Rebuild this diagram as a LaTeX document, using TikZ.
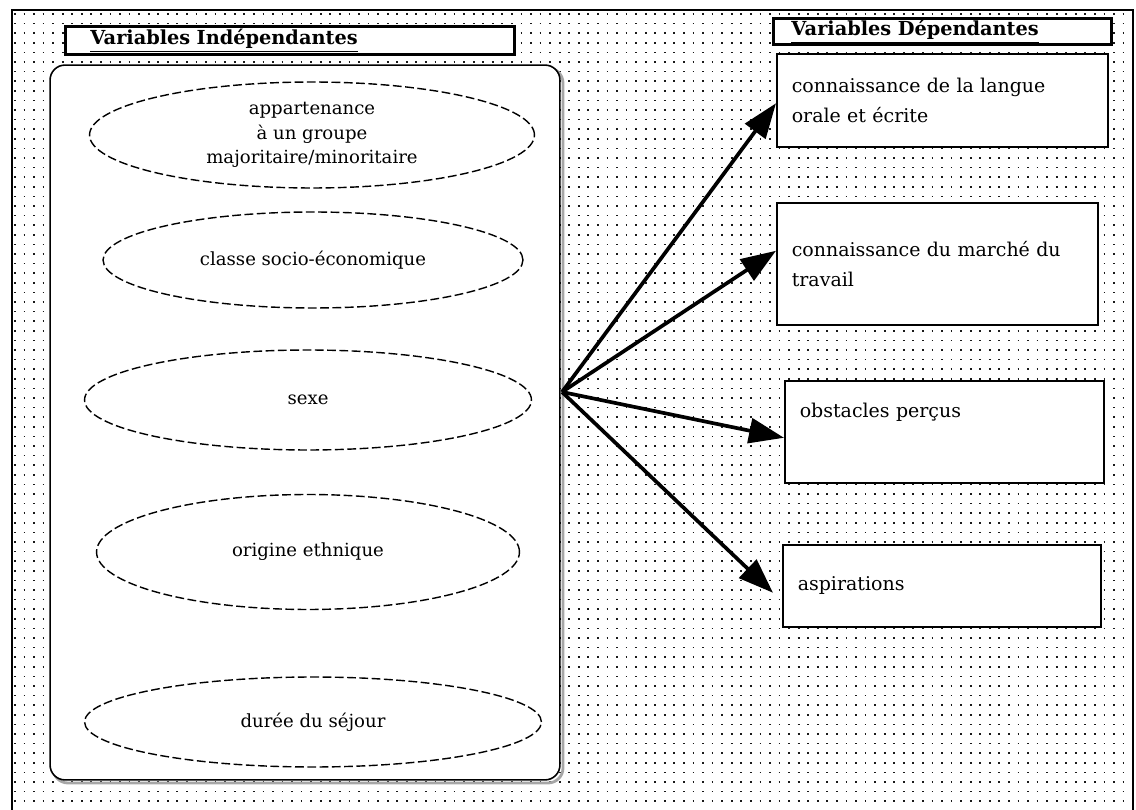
\documentclass[tikz,border=0pt]{standalone}
\usepackage{fontspec}
\setmainfont{DejaVu Serif}
\usetikzlibrary{shapes.geometric,arrows.meta,positioning}
\tikzset{
  iv/.style={ellipse, draw, line width=0.8pt, dash pattern=on 5pt off 2pt, fill=white, align=center, inner sep=0pt,
    font=\fontsize{10.3}{14}\selectfont},
  dv/.style={draw, line width=0.9pt, fill=white, anchor=north west, align=left, inner xsep=0.3cm,
    font=\fontsize{10.8}{17}\selectfont},
  titre/.style={draw, line width=1.7pt, fill=white, anchor=north west, align=left, inner ysep=0pt,
    font=\bfseries\fontsize{11}{12}\selectfont},
  fl/.style={line width=2.1pt, -{Triangle[length=0.7cm,width=0.5cm]}},
}

\begin{document}
\begin{tikzpicture}[x=0.02cm,y=-0.02cm]
\useasboundingbox (0,0) rectangle (1136,810);
%\draw [help lines,step=50] (0,0) grid (1136,810);
% fond pointille
\foreach \y in {14,23.6,...,810}
  \draw[black!90, line width=1pt, dash pattern=on 1pt off 4.44pt] (14,\y) -- (1133,\y);
\draw[line width=1.2pt] (12,815) -- (12,10) -- (1133,10) -- (1133,815);

% variables independantes
\draw[black!35, line width=1.6pt, rounded corners=0.3cm] (53,68) rectangle (563,783);
\node[draw, fill=white, line width=0.9pt, rounded corners=0.3cm, minimum width=10.2cm, minimum height=14.3cm] (R) at (305,422.5) {};
\node[titre, minimum height=0.56cm, inner xsep=0.5cm, text width=7.98cm] (T1) at (64,25) {\underline{Variables Indépendantes}};

\node[iv, minimum width=8.9cm, minimum height=2.12cm] (e1) at (312,135) {appartenance\\à un groupe\\majoritaire/minoritaire};
\node[iv, minimum width=8.4cm, minimum height=1.92cm] (e2) at (313,260) {classe socio-économique};
\node[iv, minimum width=8.94cm, minimum height=2.0cm] (e3) at (308,400) {sexe};
\node[iv, minimum width=8.46cm, minimum height=2.3cm] (e4) at (308,552) {origine ethnique};
\node[iv, minimum width=9.14cm, minimum height=1.8cm] (e5) at (313,722) {durée du séjour};

% variables dependantes
\node[titre, minimum height=0.52cm, inner xsep=0.36cm, text width=6.04cm] (T2) at (772,17) {\underline{Variables Dépendantes}};
\node[dv, text width=6.02cm, minimum height=1.86cm] (b1) at (776,53) {connaissance de la langue\\orale et écrite};
\node[dv, text width=5.82cm, minimum height=2.44cm] (b2) at (776,202) {connaissance du marché du\\travail};
\node[dv, text width=5.78cm, minimum height=2.04cm, text depth=0.85cm] (b3) at (784,380) {obstacles perçus};
\node[dv, text width=5.76cm, minimum height=1.64cm] (b4) at (782,544) {aspirations};

\coordinate (O) at (562,392);
\draw[fl] (O) -- ([yshift=-0.06cm]b1.west);
\draw[fl] (O) -- ([yshift=0.26cm]b2.west);
\draw[fl] (O) -- ([yshift=-0.12cm]b3.west);
\draw[fl] (O) -- ([xshift=-0.18cm,yshift=-0.14cm]b4.west);
\end{tikzpicture}
\end{document}
